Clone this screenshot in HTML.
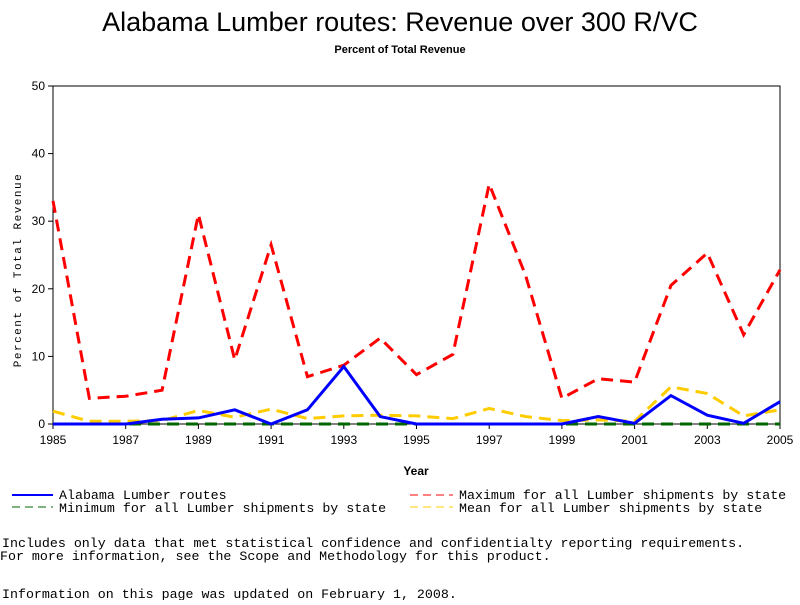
<!DOCTYPE html>
<html><head><meta charset="utf-8"><style>
body{margin:0;background:#fff;width:800px;height:600px;overflow:hidden}
svg text{font-family:"Liberation Sans",sans-serif}
.m{font-family:"Liberation Mono",monospace}
</style></head><body>
<svg id="c" width="800" height="600" xmlns="http://www.w3.org/2000/svg">
<text x="400" y="31" text-anchor="middle" font-size="27">Alabama Lumber routes: Revenue over 300 R/VC</text>
<text x="400" y="53" text-anchor="middle" font-size="11" font-weight="bold">Percent of Total Revenue</text>
<rect x="53" y="86" width="727" height="338" fill="none" stroke="#000"/>
<g id="axes"></g>
<g id="series"></g>
<text x="416" y="475" text-anchor="middle" font-size="12" font-weight="bold">Year</text>
<text transform="translate(21,270) rotate(-90)" text-anchor="middle" font-size="11" letter-spacing="1.5" class="m">Percent of Total Revenue</text>
<g font-size="13.3" class="m">
<g><line x1="12" y1="495" x2="53" y2="495" stroke="#00f" stroke-width="2"/><text x="59" y="499" class="m">Alabama Lumber routes</text></g>
<g><line x1="12" y1="507" x2="53" y2="507" stroke="#060" stroke-dasharray="8,5"/><text x="59" y="512" class="m">Minimum for all Lumber shipments by state</text></g>
<g><line x1="410" y1="495" x2="453" y2="495" stroke="#f00" stroke-dasharray="8,5"/><text x="459" y="499" class="m">Maximum for all Lumber shipments by state</text></g>
<g><line x1="410" y1="507" x2="453" y2="507" stroke="#fc0" stroke-dasharray="8,5"/><text x="459" y="512" class="m">Mean for all Lumber shipments by state</text></g>
<text x="2" y="547" class="m">Includes only data that met statistical confidence and confidentialty reporting requirements.</text>
<text x="0" y="560" class="m">For more information, see the Scope and Methodology for this product.</text>
<text x="2" y="598" class="m">Information on this page was updated on February 1, 2008.</text>
</g>
</svg>
<script>
const years=[1985,1986,1987,1988,1989,1990,1991,1992,1993,1994,1995,1996,1997,1998,1999,2000,2001,2002,2003,2004,2005];
const alabama=[0,0,0,0.7,0.9,2.1,0,2.1,8.5,1.1,0,0,0,0,0,1.1,0.1,4.2,1.3,0.1,3.3];
const maximum=[33,3.8,4.1,5,31,9.5,26.5,7,8.7,12.7,7.3,10.3,35.5,22,3.8,6.7,6.2,20.5,25.3,13.2,22.8];
const minimum=[0,0,0,0,0,0,0,0,0,0,0,0,0,0,0,0,0,0,0,0,0];
const mean=[1.9,0.4,0.4,0.5,2.0,1.0,2.2,0.8,1.2,1.3,1.2,0.8,2.3,1.1,0.5,0.6,0.4,5.5,4.5,1.2,2.1];
const yTicks=[0,10,20,30,40,50];
const xTicks=[1985,1987,1989,1991,1993,1995,1997,1999,2001,2003,2005];
const NS="http://www.w3.org/2000/svg";
const X=v=>53+(v-1985)*727/20, Y=v=>424-v*338/50;
const ax=document.getElementById('axes'), se=document.getElementById('series');
function mk(t,a,p){const e=document.createElementNS(NS,t);for(const k in a)e.setAttribute(k,a[k]);p.appendChild(e);return e;}
yTicks.forEach(v=>{const g=mk('g',{},ax);


mk('line',{x1:48,x2:53,y1:Y(v),y2:Y(v),stroke:'#000'},g);
const t=mk('text',{x:45,y:Y(v)+4,'text-anchor':'end','font-size':12},g);t.textContent=v;});
xTicks.forEach(v=>{const g=mk('g',{},ax);


mk('line',{x1:X(v),x2:X(v),y1:424,y2:429,stroke:'#000'},g);
const t=mk('text',{x:X(v),y:444,'text-anchor':'middle','font-size':12},g);t.textContent=v;});
function line(d,c,w,dash,name){const p=mk('polyline',{points:d.map((v,i)=>X(years[i])+','+Y(v)).join(' '),fill:'none',stroke:c,'stroke-width':w},se);
if(dash)p.setAttribute('stroke-dasharray',dash);

}
line(mean,'#fc0',3,'12,7','mean-line');
line(maximum,'#f00',3,'12,7','maximum-line');
line(minimum,'#060',3,'12,7','minimum-line');
line(alabama,'#00f',3,null,'alabama-line');
</script>
</body></html>
